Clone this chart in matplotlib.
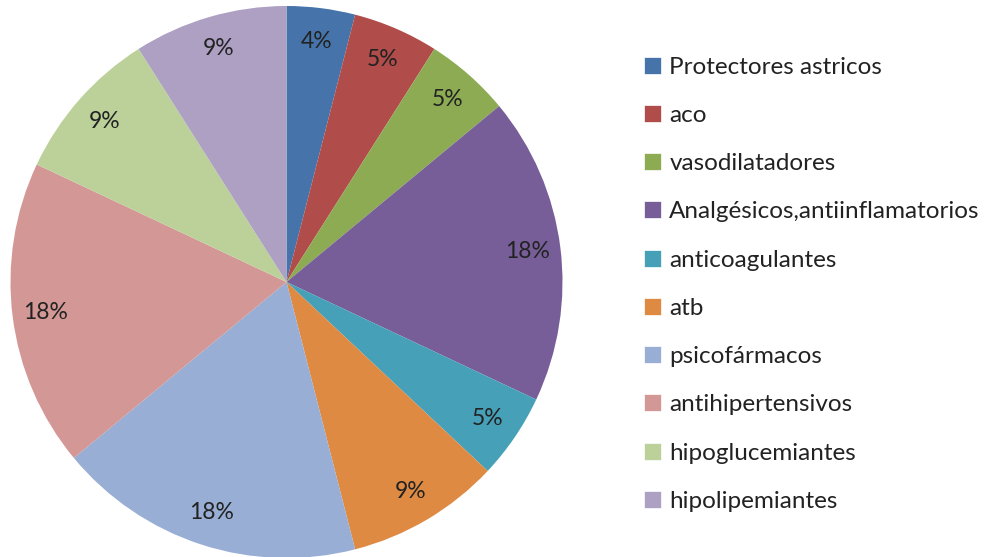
import matplotlib.pyplot as plt
from matplotlib.patches import Patch

categories = ["Protectores astricos", "aco", "vasodilatadores",
              "Analgésicos,antiinflamatorios", "anticoagulantes", "atb",
              "psicofármacos", "antihipertensivos", "hipoglucemiantes",
              "hipolipemiantes"]
percent = [4, 5, 5, 18, 5, 9, 18, 18, 9, 9]
colors = ["#4674AA", "#B04C49", "#8DAB53", "#775E98", "#46A0B7",
          "#DE8A43", "#98AED4", "#D39795", "#BCD19A", "#ADA0C3"]

plt.rcParams['font.family'] = ['Lato', 'DejaVu Sans']

fig = plt.figure(figsize=(9.97, 5.57), dpi=100)
W, H = 997, 557
cx, cy, r = 286.5, 282, 276
ax = fig.add_axes([(cx - r) / W, (H - cy - r) / H, 2 * r / W, 2 * r / H])

wedges, texts = ax.pie(percent, colors=colors, startangle=90, counterclock=False,
                       labels=[f"{p}%" for p in percent], labeldistance=0.88,
                       wedgeprops=dict(linewidth=0),
                       textprops=dict(fontsize=16.5, color="#222222"))
for t in texts:
    t.set_ha("center")
    t.set_va("center")
ax.set_xlim(-1, 1)
ax.set_ylim(-1, 1)
ax.set_aspect("equal")
ax.axis("off")

handles = [Patch(facecolor=c, edgecolor="white", linewidth=0.5) for c in colors]
fig.legend(handles, categories, loc="upper left", bbox_to_anchor=(634 / W, 1 - 47 / H),
           frameon=False, fontsize=17.5, handlelength=0.7, handleheight=0.7,
           handletextpad=0.35, labelspacing=1.12, borderaxespad=0,
           labelcolor="#222222")

fig.savefig("out.png", dpi=100)
